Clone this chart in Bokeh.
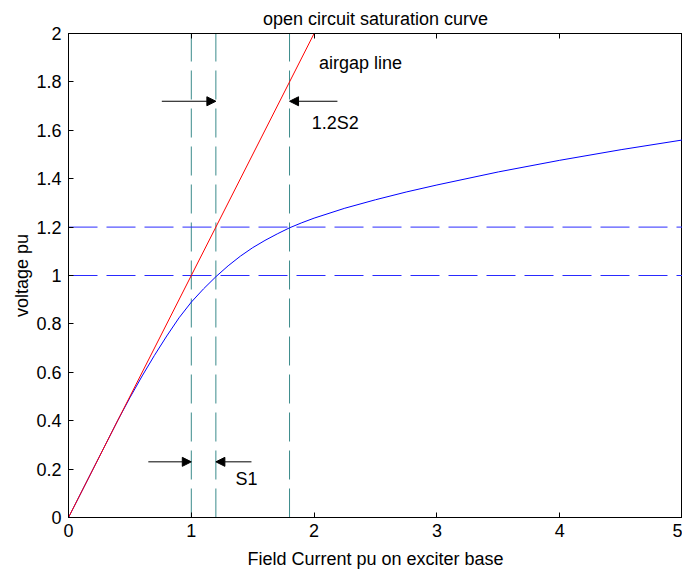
from bokeh.plotting import figure
from bokeh.models import Range1d, FixedTicker, LinearAxis, Arrow, NormalHead, Label
from bokeh.embed import file_html
from bokeh.resources import INLINE

# ---- data ----
field_current = [0, 0.2, 0.4, 0.5, 0.6, 0.7, 0.8, 0.9, 1.0, 1.1, 1.2, 1.3, 1.4, 1.5, 1.6, 1.7,
                 1.8, 1.9, 2.0, 2.25, 2.5, 2.75, 3.0, 3.5, 4.0, 4.5, 5.0]
voltage_occ = [0, 0.2, 0.4, 0.495, 0.585, 0.67, 0.75, 0.825, 0.89, 0.945, 0.995, 1.04, 1.08,
               1.115, 1.145, 1.172, 1.197, 1.218, 1.237, 1.278, 1.313, 1.345, 1.374, 1.428,
               1.476, 1.52, 1.56]
airgap_x = [0, 2]
airgap_y = [0, 2]

x_limits = [0, 5]
y_limits = [0, 2]
vertical_markers = [1.0, 1.2, 1.8]
horizontal_markers = [1.0, 1.2]

arrow_x_start = [0.76, 2.19, 0.65, 1.49]
arrow_x_end = [1.2, 1.8, 1.0, 1.2]
arrow_y = [1.72, 1.72, 0.23, 0.23]

note_text = ["airgap line", "1.2S2", "S1"]
note_x = [2.04, 1.98, 1.36]
note_y = [1.88, 1.63, 0.16]

x_ticks = [0, 1, 2, 3, 4, 5]
x_tick_labels = ["0", "1", "2", "3", "4", "5"]
y_ticks = [0, 0.2, 0.4, 0.6, 0.8, 1.0, 1.2, 1.4, 1.6, 1.8, 2.0]
y_tick_labels = ["0", "0.2", "0.4", "0.6", "0.8", "1", "1.2", "1.4", "1.6", "1.8", "2"]

FONT = "Liberation Sans"
FS = "18px"

p = figure(frame_width=614, frame_height=484,
           x_range=Range1d(*x_limits), y_range=Range1d(*y_limits),
           output_backend="svg", toolbar_location=None,
           min_border_left=68, min_border_right=0, min_border_top=33, min_border_bottom=51,
           title="open circuit saturation curve")
p.background_fill_color = "white"
p.border_fill_color = "white"
p.outline_line_color = "black"
p.outline_line_width = 1
p.grid.visible = False

p.title.align = "center"
p.title.text_font = FONT
p.title.text_font_size = FS
p.title.text_font_style = "normal"
p.title.text_color = "black"
p.title.standoff = 9
p.title.offset = 0

def style_axis(ax, ticks, labels):
    ax.ticker = FixedTicker(ticks=ticks)
    ax.major_label_overrides = {t: l for t, l in zip(ticks, labels)}
    ax.major_tick_in = 5
    ax.major_tick_out = 0
    ax.minor_tick_line_color = None
    ax.axis_line_color = "black"
    ax.major_tick_line_color = "black"
    ax.major_label_text_font = FONT
    ax.major_label_text_font_size = FS
    ax.major_label_text_color = "black"
    ax.axis_label_text_font = FONT
    ax.axis_label_text_font_size = FS
    ax.axis_label_text_font_style = "normal"
    ax.axis_label_text_color = "black"

style_axis(p.xaxis[0], x_ticks, x_tick_labels)
style_axis(p.yaxis[0], y_ticks, y_tick_labels)
p.xaxis.axis_label = "Field Current pu on exciter base"
p.yaxis.axis_label = "voltage pu"
p.xaxis.major_label_standoff = 6
p.xaxis.axis_label_standoff = 9
p.yaxis.major_label_standoff = 7
p.yaxis.axis_label_standoff = 1

# top border ticks (no labels)
top_axis = LinearAxis()
style_axis(top_axis, x_ticks, ["" for _ in x_tick_labels])
top_axis.major_label_text_font_size = "1px"
top_axis.major_label_standoff = 0
p.add_layout(top_axis, "above")

# dashed marker lines
p.multi_line(xs=[[v, v] for v in vertical_markers], ys=[y_limits for _ in vertical_markers],
             line_color="#3b8b8b", line_width=1, line_dash="29 9")
p.multi_line(xs=[x_limits for _ in horizontal_markers], ys=[[v, v] for v in horizontal_markers],
             line_color="#2a2aff", line_width=1, line_dash="29 9")

# curves
p.line(field_current, voltage_occ, line_color="#0000ff", line_width=1)
p.line(airgap_x, airgap_y, line_color="#ff0000", line_width=1)

# arrows
for xs, xe, yv in zip(arrow_x_start, arrow_x_end, arrow_y):
    p.add_layout(Arrow(x_start=xs, y_start=yv, x_end=xe, y_end=yv,
                       line_color="black", line_width=1,
                       end=NormalHead(size=9, fill_color="black", line_color="black")))

# notes
for t, xv, yv in zip(note_text, note_x, note_y):
    p.add_layout(Label(x=xv, y=yv, text=t, text_font=FONT, text_font_size=FS,
                       text_color="black", text_baseline="middle", text_align="left"))

open("out.html", "w").write(file_html(p, INLINE))
